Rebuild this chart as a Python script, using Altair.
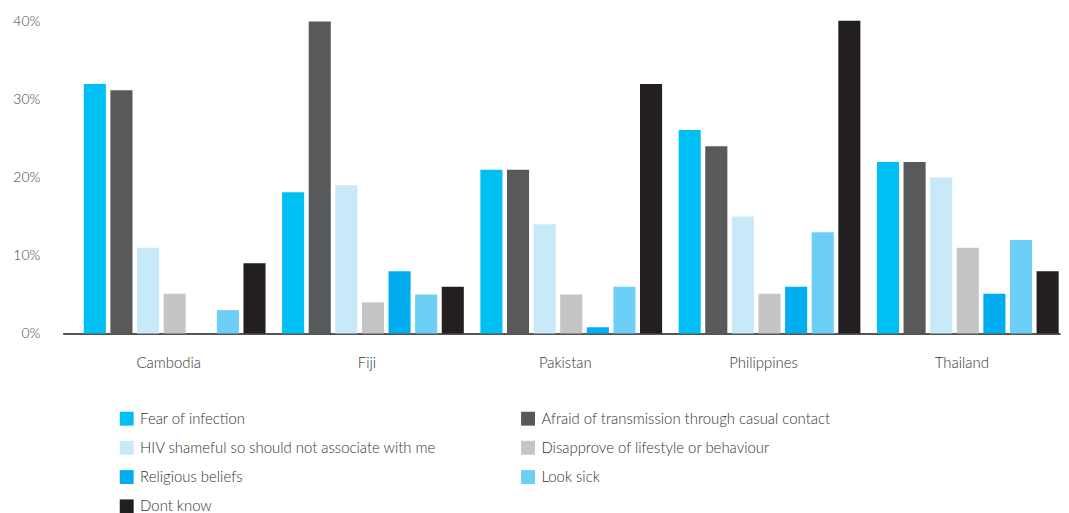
import altair as alt
import pandas as pd

countries = ["Cambodia", "Fiji", "Pakistan", "Philippines", "Thailand"]
reasons = [
    "Fear of infection",
    "Afraid of transmission through casual contact",
    "HIV shameful so should not associate with me",
    "Disapprove of lifestyle or behaviour",
    "Religious beliefs",
    "Look sick",
    "Dont know",
]
colors = ["#00C0F3", "#58595B", "#C7E9F8", "#C4C5C7", "#00AEEF", "#6DCFF6", "#231F20"]

fear = [32, 18.1, 21, 26.1, 22]
afraid = [31.2, 40, 21, 24, 22]
shameful = [11, 19, 14, 15, 20]
disapprove = [5.1, 4, 5, 5.1, 11]
religious = [0, 8, 0.8, 6, 5.1]
look_sick = [3, 5, 6, 13, 12]
dont_know = [9, 6, 32, 40.1, 8]

series = [fear, afraid, shameful, disapprove, religious, look_sick, dont_know]
rows = []
for r, vals in zip(reasons, series):
    for c, v in zip(countries, vals):
        rows.append({"country": c, "reason": r, "value": v})
df = pd.DataFrame(rows)

# legend is laid out column by column: order the colour domain so rows read like the reference
legend_order = [reasons[i] for i in (0, 2, 4, 6, 1, 3, 5)]
legend_colors = [colors[i] for i in (0, 2, 4, 6, 1, 3, 5)]

FONT = "Lato"
W = 300

chart = alt.Chart(df).mark_bar().encode(
    x=alt.X("country:N", sort=countries,
            scale=alt.Scale(paddingInner=0.07, paddingOuter=0.05, align=1, round=False),
            axis=alt.Axis(title=None, labelAngle=0, ticks=False, labelPadding=22,
                          labelFontSize=15, labelColor="#333", labelFont=FONT,
                          labelFontWeight=W, labelOffset=-6,
                          domainColor="#555", domainWidth=2)),
    xOffset=alt.XOffset("reason:N", sort=reasons,
                        scale=alt.Scale(paddingInner=0.17, paddingOuter=0.05)),
    y=alt.Y("value:Q", scale=alt.Scale(domain=[0, 40]),
            axis=alt.Axis(title=None, values=[0, 10, 20, 30, 40], grid=False,
                          domain=False, ticks=False, labelPadding=23,
                          labelExpr="datum.value + '%'", labelFontWeight=W,
                          labelFontSize=14, labelColor="#444", labelFont=FONT)),
    color=alt.Color("reason:N",
                    scale=alt.Scale(domain=legend_order, range=legend_colors),
                    legend=alt.Legend(title=None, orient="none", legendX=57, legendY=392,
                                      columns=2, columnPadding=84, rowPadding=13.5,
                                      symbolType="square", symbolSize=196,
                                      symbolStrokeWidth=0, labelFontSize=15,
                                      labelColor="#333", labelFont=FONT,
                                      labelFontWeight=W,
                                      labelLimit=500, padding=0, labelOffset=6)),
).properties(
    width=1004, height=314,
    autosize=alt.AutoSizeParams(type="none"),
    padding={"left": 55, "top": 12, "right": 1, "bottom": 179},
).configure(font=FONT, background="white").configure_view(stroke=None)

chart.save("out.html", embed_options={"renderer": "svg", "actions": False})
